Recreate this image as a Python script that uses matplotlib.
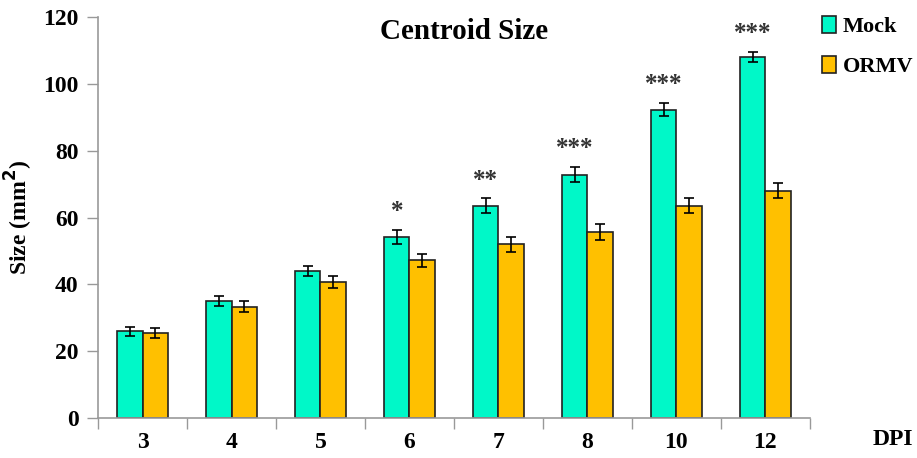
import matplotlib.pyplot as plt
import numpy as np
from matplotlib.patches import Patch

dpi_labels = ['3', '4', '5', '6', '7', '8', '10', '12']
mock = [26.0, 35.0, 44.0, 54.2, 63.5, 72.8, 92.3, 108.0]
mock_err = [1.4, 1.5, 1.6, 2.0, 2.2, 2.3, 2.0, 1.4]
ormv = [25.5, 33.3, 40.7, 47.2, 52.0, 55.7, 63.5, 68.0]
ormv_err = [1.4, 1.6, 1.8, 2.0, 2.2, 2.3, 2.2, 2.3]
stars = ['', '', '', '*', '**', '***', '***', '***']

plt.rcParams['font.family'] = ['Liberation Serif', 'DejaVu Serif']
plt.rcParams['font.weight'] = 'bold'

fig = plt.figure(figsize=(9.17, 4.58), dpi=100)
ax = fig.add_axes([0.107, 0.087, 0.776, 0.876])

x = np.arange(len(dpi_labels))
w = 0.285
c_mock = '#00F8C8'
c_ormv = '#FFC000'
ekw = dict(ecolor='black', elinewidth=1.2, capsize=3.5, capthick=1.2)

ax.bar(x - w / 2, mock, w, color=c_mock, edgecolor='#222222', linewidth=1.2,
       yerr=mock_err, error_kw=ekw, zorder=2)
ax.bar(x + w / 2, ormv, w, color=c_ormv, edgecolor='#222222', linewidth=1.2,
       yerr=ormv_err, error_kw=ekw, zorder=2)

for i, s in enumerate(stars):
    if s:
        ax.annotate(s, (x[i] - w / 2, mock[i] + mock_err[i]), xytext=(0, 5),
                    textcoords='offset points', ha='center', va='bottom',
                    fontsize=18, color='#333333', fontweight='bold')

ax.set_xlim(-0.5, len(x) - 0.5)
ax.set_ylim(0, 120)
ax.set_yticks(range(0, 121, 20))
ax.set_xticks(x)
ax.set_xticklabels(dpi_labels)
ax.set_xticks(np.arange(-0.5, len(x), 1.0), minor=True)
ax.tick_params(axis='x', which='major', length=0, pad=10, labelsize=17)
ax.tick_params(axis='x', which='minor', length=8, color='#999999', width=1)
ax.tick_params(axis='y', length=8, color='#999999', width=1, labelsize=17, pad=6)

for sp in ['top', 'right']:
    ax.spines[sp].set_visible(False)
for sp in ['left', 'bottom']:
    ax.spines[sp].set_color('#999999')
    ax.spines[sp].set_linewidth(1.2)

ax.set_ylabel('Size (mm$^\\mathbf{2}$)', fontsize=17, fontweight='bold', labelpad=6)
ax.set_title('Centroid Size', fontsize=21, fontweight='bold', x=0.514, y=0.925)
fig.text(0.996, 0.04, 'DPI', fontsize=17, fontweight='bold', ha='right', va='center')

handles = [Patch(facecolor=c_mock, edgecolor='#222222', linewidth=1.2, label='Mock'),
           Patch(facecolor=c_ormv, edgecolor='#222222', linewidth=1.2, label='ORMV')]
ax.legend(handles=handles, loc='upper left', bbox_to_anchor=(0.995, 1.04), frameon=False,
          handlelength=0.65, handleheight=0.75, handletextpad=0.3, labelspacing=0.85,
          borderaxespad=0.3, prop={'size': 16, 'weight': 'bold'})

fig.savefig('out.png', dpi=100)
